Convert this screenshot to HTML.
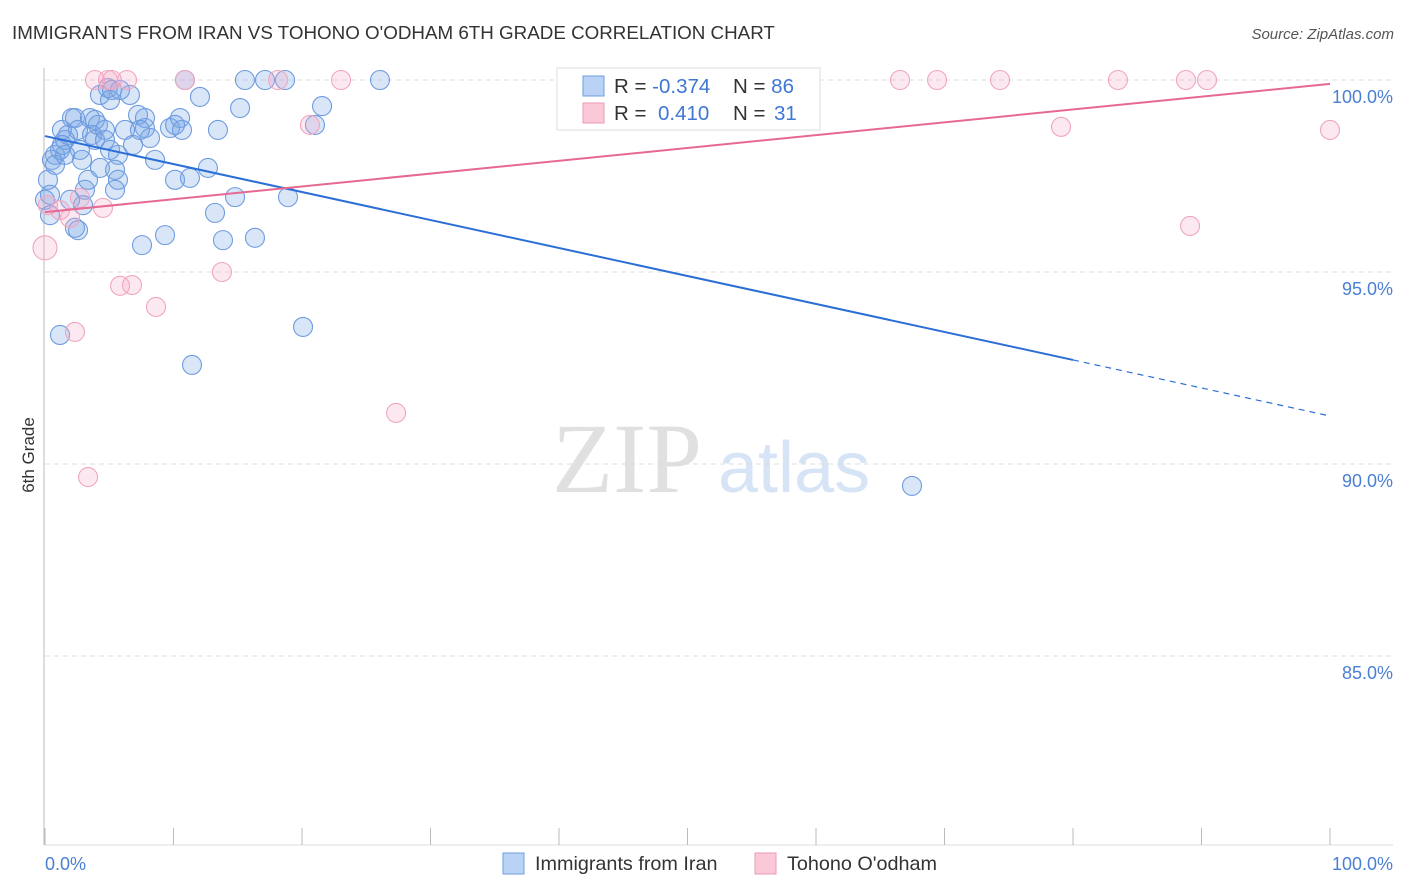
<!DOCTYPE html>
<html><head><meta charset="utf-8"><style>
body{margin:0;background:#fff;font-family:"Liberation Sans",sans-serif;}
#wrap{position:relative;width:1406px;height:892px;overflow:hidden;}
</style></head><body>
<div id="wrap">
<svg id="chart" width="1406" height="892" xmlns="http://www.w3.org/2000/svg" font-family="Liberation Sans, sans-serif">
<text x="12" y="39" font-size="18.8" fill="#333">IMMIGRANTS FROM IRAN VS TOHONO O'ODHAM 6TH GRADE CORRELATION CHART</text>
<text x="1394" y="39" font-size="15" fill="#555" font-style="italic" text-anchor="end">Source: ZipAtlas.com</text>
<text transform="translate(34,455) rotate(-90)" font-size="17" fill="#333" text-anchor="middle">6th Grade</text>
<g>
<text x="552" y="492" font-size="100" font-family="Liberation Serif, serif" fill="#e0e0e0">ZIP</text>
<text x="718" y="492" font-size="72" fill="#d6e4f6">atlas</text>
</g>
<g id="grid"></g>
<g id="ticks"></g>
<g id="pts"></g>
<g id="lines"></g>
<g>
<rect x="557" y="68" width="263" height="62" fill="#fff" stroke="#ddd"/>
<rect x="583" y="76" width="21" height="20" fill="#b9d2f5" stroke="#6e9ee0"/>
<rect x="583" y="103" width="21" height="20" fill="#fbc8d8" stroke="#ee9ab6"/>
<text x="614" y="93" font-size="20.5" fill="#333">R = <tspan fill="#3f77d2">-0.374</tspan></text>
<text x="733" y="93" font-size="20.5" fill="#333">N = <tspan fill="#3f77d2">86</tspan></text>
<text x="614" y="120" font-size="20.5" fill="#333">R = <tspan fill="#3f77d2" x="658">0.410</tspan></text>
<text x="733" y="120" font-size="20.5" fill="#333">N = <tspan fill="#3f77d2" x="774">31</tspan></text>
</g>
<g>
<rect x="503" y="853" width="21" height="21" fill="#b9d2f5" stroke="#6e9ee0"/>
<text x="535" y="870" font-size="19.8" fill="#333">Immigrants from Iran</text>
<rect x="755" y="853" width="21" height="21" fill="#fbc8d8" stroke="#ee9ab6"/>
<text x="787" y="870" font-size="19.8" fill="#333">Tohono O'odham</text>
</g>
<text x="45" y="870" font-size="18" fill="#4a7fd4">0.0%</text>
<text x="1393" y="870" font-size="18" fill="#4a7fd4" text-anchor="end">100.0%</text>
</svg>
</div>
<script>
const yTicks=[100,95,90,85];
const yTickLabels=["100.0%","95.0%","90.0%","85.0%"];
const xTicks=[0,10,20,30,40,50,60,70,80,90,100];
const blueX=[0,0.39,0.23,0.54,0.78,1.17,1.32,1.56,1.79,2.10,2.33,2.57,2.72,2.88,3.11,3.35,3.50,3.66,3.89,4.12,4.28,4.28,4.67,4.90,5.06,5.21,5.45,5.68,5.45,5.68,6.23,6.61,6.85,7.24,7.55,7.78,7.78,8.17,8.56,9.34,9.73,10.12,10.51,10.66,10.89,11.28,11.44,12.06,12.68,13.23,13.46,13.85,14.79,15.18,15.56,16.34,17.12,18.68,18.91,20.08,21.01,21.56,26.07,67.47,1.17,2.33,2.57,5.06,1.95,0.39,0.78,1.56,2.96,4.67,7.39,10.12,5.84,1.32,3.89];
const blueY=[96.88,96.48,97.40,97.92,98.05,98.18,98.70,98.44,98.57,99.01,99.01,98.70,98.18,97.92,97.14,97.40,99.01,98.57,98.44,98.83,99.61,97.71,98.44,99.79,99.48,99.74,97.66,97.40,97.14,98.05,98.70,99.61,98.31,99.09,95.70,99.01,98.75,98.49,97.92,95.96,98.75,97.40,99.01,98.70,100,97.45,92.58,99.56,97.71,96.54,98.70,95.83,96.95,99.27,100,95.89,100,100,96.95,93.57,98.83,99.32,100,89.43,93.36,96.15,96.09,98.18,96.88,97.01,97.79,98.05,96.74,98.70,98.70,98.83,99.74,98.31,98.96];
const pinkX=[0,1.17,1.95,2.33,3.35,4.51,2.72,3.89,4.90,5.21,6.38,5.84,6.77,8.64,10.89,13.77,18.13,20.62,23.04,27.32,47.63,66.54,69.42,74.32,79.07,83.50,88.79,89.11,90.43,100,0.23];
const pinkY=[95.63,96.61,96.41,93.44,89.66,96.67,96.93,100,100,100,100,94.64,94.66,94.09,100,95.0,100,98.83,100,91.33,100,100,100,100,98.78,100,100,96.20,100,98.70,96.74];
const blueTrend=[98.54,92.71,91.25]; // at x=0, 80, 100
const pinkTrend=[96.56,99.9]; // at x=0, 100
const X0=45,X1=1330,Y100=80,PXPCT=38.4;
const sx=v=>X0+(X1-X0)*v/100;
const sy=v=>Y100+(100-v)*PXPCT;
const NS="http://www.w3.org/2000/svg";
function mk(t,a,p){const e=document.createElementNS(NS,t);for(const k in a)e.setAttribute(k,a[k]);p.appendChild(e);return e;}
const grid=document.getElementById('grid'),ticks=document.getElementById('ticks'),pts=document.getElementById('pts'),lines=document.getElementById('lines');
yTicks.forEach((t,i)=>{
 const l=mk('line',{x1:X0,x2:1393,y1:sy(t),y2:sy(t),stroke:'#ddd','stroke-dasharray':'5,4'},grid);
 
 
 const tx=mk('text',{x:1393,y:sy(t)+23,'font-size':18,fill:'#4a7fd4','text-anchor':'end'},grid);
 tx.textContent=yTickLabels[i];
 
 
});
const ax=mk('line',{x1:44,x2:44,y1:68,y2:845,stroke:'#bbb'},ticks);


const bx=mk('line',{x1:44,x2:1393,y1:845,y2:845,stroke:'#ddd'},ticks);


xTicks.forEach(t=>{
 const l=mk('line',{x1:sx(t),x2:sx(t),y1:828,y2:845,stroke:'#bbb'},ticks);
 
 
});
blueX.forEach((x,i)=>{
 const c=mk('circle',{cx:sx(x),cy:sy(blueY[i]),r:9.5,fill:'rgba(120,165,230,0.28)',stroke:'#6f9ce0','stroke-width':1.1},pts);
 
 
});
pinkX.forEach((x,i)=>{
 const c=mk('circle',{cx:sx(x),cy:sy(pinkY[i]),r:i==0?12:9.5,fill:'rgba(245,165,195,0.25)',stroke:'#f0a6bf','stroke-width':1.1},pts);
 
 
});
const b1=mk('line',{x1:sx(0),y1:sy(blueTrend[0]),x2:sx(80),y2:sy(blueTrend[1]),stroke:'#2b6fd6','stroke-width':2},lines);


const b2=mk('line',{x1:sx(80),y1:sy(blueTrend[1]),x2:sx(100),y2:sy(blueTrend[2]),stroke:'#2b6fd6','stroke-width':1.2,'stroke-dasharray':'6,5'},lines);


const p1=mk('line',{x1:sx(0),y1:sy(pinkTrend[0]),x2:sx(100),y2:sy(pinkTrend[1]),stroke:'#e56992','stroke-width':2},lines);


</script>
</body></html>
